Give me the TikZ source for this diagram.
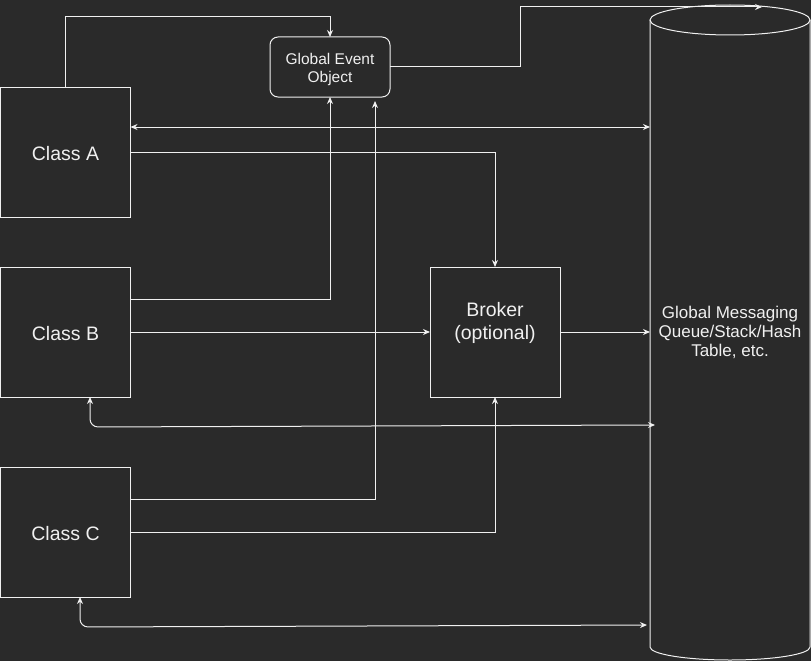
\documentclass[tikz,border=0pt]{standalone}
\usepackage{fontspec}
\setmainfont{Liberation Sans}
\usepackage{xcolor}
\usepackage{tikz}
\usetikzlibrary{arrows.meta}

\definecolor{bgdark}{HTML}{2A2A2A}
\definecolor{wire}{HTML}{F0F0F0}

% lines of a label, first baseline raised by #1 above the node centre
\newcommand{\liftstack}[2]{\raisebox{#1}[0pt][0pt]{\begin{tabular}[t]{@{}c@{}}#2\end{tabular}}}

\begin{document}
\begin{tikzpicture}[x=1pt, y=-1pt, line width=1pt,
    classbox/.style={draw=wire, fill=bgdark, text=wire, minimum width=130pt, minimum height=130pt,
        inner sep=0pt, outer sep=0pt, font=\fontsize{19.5}{22.8}\selectfont},
    eventbox/.style={draw=wire, fill=bgdark, text=wire, rounded corners=8pt, minimum width=120pt,
        minimum height=60pt, inner sep=0pt, outer sep=0pt, font=\fontsize{15.5}{18.4}\selectfont},
    flow/.style={draw=wire, -{Stealth[length=7pt,width=6pt]}},
    both/.style={draw=wire, {Stealth[length=7pt,width=6pt]}-{Stealth[length=7pt,width=6pt]}}]

% Background fixes the page size
\fill[bgdark] (0,0) rectangle (811,661);

% Class boxes on the left
\foreach \name/\lbl/\y in {classA/Class A/152, classB/Class B/332, classC/Class C/532} {
    \node[classbox] (\name) at (65.5,\y) {\liftstack{-8.7pt}{\lbl}};
}

% Event object and broker
\node[eventbox] (geo) at (330,67) {\liftstack{2.7pt}{Global Event\\Object}};
\node[classbox] (broker) at (495,332) {\liftstack{15.3pt}{Broker\\(optional)}};

% Global store: text node with a cylinder drawn round it
\node[text=wire, minimum width=160pt, minimum height=655pt, inner sep=0pt, outer sep=0pt,
    font=\fontsize{17}{19.2}\selectfont] (store) at (730,332.5)
    {\liftstack{14.2pt}{Global Messaging\\Queue/Stack/Hash\\Table, etc.}};
\draw[wire] ([yshift=-15pt]store.north) ellipse [x radius=80pt, y radius=15pt];
\draw[wire] ([yshift=-15pt]store.north west) -- ([yshift=13pt]store.south west)
    arc[start angle=180, end angle=360, x radius=80pt, y radius=13pt]
    -- ([yshift=-15pt]store.north east);
\coordinate (storetop) at (762,7);

% Links to the event object
\draw[flow] (classA.north) -- (65.5,17) -| (geo.north);
\draw[flow] (classB.east |- 0,299) -| (geo.south);
\draw[flow] (classC.east |- 0,499) -| ([xshift=45pt,yshift=-4pt]geo.south);
\draw[flow] (geo.east) -| (520,7) -- (storetop);

% Links to the broker
\draw[flow] (classA.east) -| (broker.north);
\draw[flow] (classB) -- (broker);
\draw[flow] (classC.east) -| (broker.south);
\draw[flow] (broker) -- (store.west |- broker);

% Links to the store
\draw[both] (classA.east |- 0,127) -- (store.west |- 0,127);
\draw[both, rounded corners=8pt, shorten >=-5pt] ([xshift=24.5pt]classB.south) -- (90,427) -- (store.west |- 0,425);
\draw[both, rounded corners=8pt, shorten >=3pt] ([xshift=14.5pt]classC.south) -- (80,627) -- (store.west |- 0,625);

\end{tikzpicture}
\end{document}
